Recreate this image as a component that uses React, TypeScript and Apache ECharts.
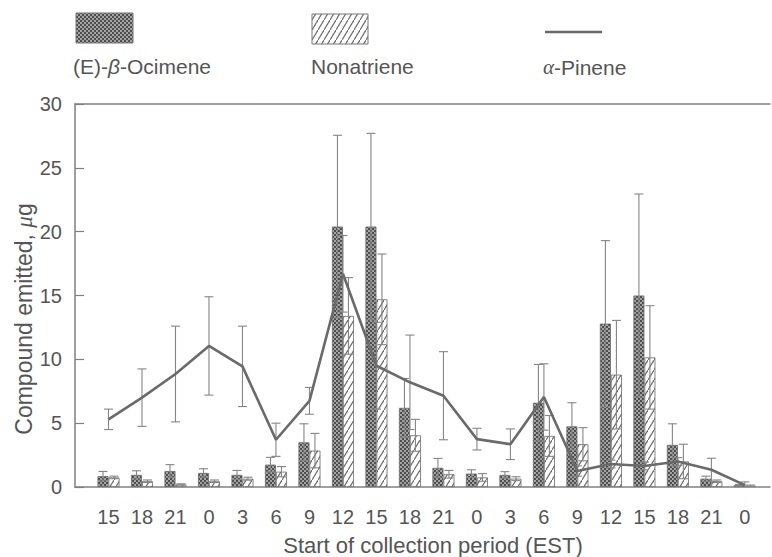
import React, { useEffect, useRef } from 'react';
import * as echarts from 'echarts';

// Start of collection period (EST)
const categories = ['15', '18', '21', '0', '3', '6', '9', '12', '15', '18', '21', '0', '3', '6', '9', '12', '15', '18', '21', '0'];

// (E)-β-Ocimene, µg (mean and error)
const ocimene = [0.85, 0.95, 1.25, 1.1, 0.95, 1.75, 3.5, 20.4, 20.4, 6.2, 1.5, 1.05, 0.95, 6.6, 4.75, 12.8, 15.0, 3.3, 0.65, 0.15];
const ocimeneErr = [0.37, 0.32, 0.5, 0.33, 0.35, 0.57, 1.45, 7.15, 7.3, 2.3, 0.74, 0.3, 0.25, 3.0, 1.85, 6.5, 7.95, 1.65, 0.2, 0.05];

// Nonatriene, µg
const nonatriene = [0.75, 0.45, 0.2, 0.45, 0.65, 1.2, 2.85, 13.4, 14.7, 4.05, 1.0, 0.75, 0.65, 4.0, 3.35, 8.8, 10.15, 2.0, 0.45, 0.1];
const nonatrieneErr = [0.1, 0.1, 0.05, 0.1, 0.12, 0.4, 1.35, 3.0, 3.55, 1.25, 0.3, 0.3, 0.15, 1.6, 1.3, 4.25, 4.05, 1.35, 0.1, 0.05];

// α-Pinene, µg
const pinene = [5.3, 7.0, 8.85, 11.05, 9.45, 3.7, 6.75, 16.7, 9.5, 8.2, 7.15, 3.75, 3.35, 7.05, 1.25, 1.8, 1.65, 2.0, 1.35, 0.15];
const pineneErr = [0.8, 2.25, 3.75, 3.85, 3.15, 1.3, 1.05, 3.0, 3.4, 3.7, 3.45, 0.85, 1.2, 2.6, 0.4, 0.3, 0.3, 0.3, 0.9, 0.25];

const yMin = 0;
const yMax = 30;
const yStep = 5;

const xTitle = 'Start of collection period (EST)';
const yTitle = '{n|Compound emitted, }{i|μ}{n|g}';

const FONT = '"Liberation Sans", Arial, Helvetica, sans-serif';
const SERIF = '"Liberation Serif", "DejaVu Serif", serif';
const TEXT = '#555';
const AXIS = '#808080';

const darkSvg =
  "<svg xmlns='http://www.w3.org/2000/svg' width='4' height='4'>" +
  "<rect width='4' height='4' fill='#a4a4a4'/>" +
  "<rect width='2' height='2' fill='#4e4e4e'/>" +
  "<rect x='2' y='2' width='2' height='2' fill='#4e4e4e'/></svg>";
const hatchSvg =
  "<svg xmlns='http://www.w3.org/2000/svg' width='6' height='10'>" +
  "<rect width='6' height='10' fill='#ffffff'/>" +
  "<line x1='-0.6' y1='11' x2='6.6' y2='-1' stroke='#6e6e6e' stroke-width='1.2'/></svg>";

const toUrl = (s: string) => 'data:image/svg+xml;charset=utf-8,' + encodeURIComponent(s);

const darkPattern: any = { image: toUrl(darkSvg), repeat: 'repeat', imageWidth: 4, imageHeight: 4 };
const hatchPattern: any = { image: toUrl(hatchSvg), repeat: 'repeat', imageWidth: 6, imageHeight: 10 };

function errorSeries(name: string, means: number[], errs: number[], offset: number, capHalf: number) {
  return {
    type: 'custom',
    name,
    coordinateSystem: 'cartesian2d',
    z: 5,
    silent: true,
    encode: { x: 0, y: 1 },
    data: means.map((m, i) => [i, m, errs[i]]),
    renderItem: (params: any, api: any) => {
      const x = api.value(0);
      const m = api.value(1);
      const e = api.value(2);
      const top = api.coord([x, m + e]);
      const bot = api.coord([x, Math.max(0, m - e)]);
      const cx = top[0] + offset;
      const style = { stroke: '#858585', lineWidth: 1.1 };
      const children: any[] = [
        { type: 'line', shape: { x1: cx, y1: top[1], x2: cx, y2: bot[1] }, style },
        { type: 'line', shape: { x1: cx - capHalf, y1: top[1], x2: cx + capHalf, y2: top[1] }, style },
      ];
      if (m - e > 0) {
        children.push({ type: 'line', shape: { x1: cx - capHalf, y1: bot[1], x2: cx + capHalf, y2: bot[1] }, style });
      }
      return { type: 'group', children };
    },
  };
}

export default function App() {
  const ref = useRef<HTMLDivElement>(null);

  useEffect(() => {
    document.body.style.margin = '0';
    if (!ref.current) return;
    const chart = echarts.init(ref.current, null, { renderer: 'svg' });

    const labelFmt = (v: number) => {
      if (Math.abs(v - Math.round(v)) > 1e-6) return '';
      const s = categories[Math.round(v)];
      return s === undefined ? '' : s;
    };

    const option: any = {
      animation: false,
      backgroundColor: '#ffffff',
      textStyle: { fontFamily: FONT },
      grid: { left: 75, right: 2, top: 104, bottom: 70, containLabel: false },
      xAxis: [
        {
          type: 'value',
          min: -1,
          max: 19.75,
          interval: 1,
          position: 'bottom',
          axisLine: { show: true, onZero: false, lineStyle: { color: AXIS, width: 1.5 } },
          axisTick: { show: false },
          splitLine: { show: false },
          axisLabel: {
            formatter: labelFmt,
            color: TEXT,
            fontSize: 20,
            fontFamily: FONT,
            margin: 20,
            showMinLabel: true,
            showMaxLabel: false,
          },
        },
        {
          type: 'value',
          min: -1,
          max: 19.75,
          interval: 1,
          position: 'top',
          axisLine: { show: true, onZero: false, lineStyle: { color: AXIS, width: 1.5 } },
          axisTick: { show: false },
          axisLabel: { show: false },
          splitLine: { show: false },
        },
      ],
      yAxis: {
        type: 'value',
        min: yMin,
        max: yMax,
        interval: yStep,
        axisLine: { show: true, onZero: false, lineStyle: { color: AXIS, width: 1.5 } },
        axisTick: { show: true, inside: true, length: 9, lineStyle: { color: AXIS, width: 1.2 } },
        splitLine: { show: false },
        axisLabel: { color: TEXT, fontSize: 20, fontFamily: FONT, margin: 13 },
      },
      series: [
        {
          type: 'bar',
          name: '(E)-β-Ocimene',
          barWidth: 11,
          barGap: '0%',
          data: ocimene.map((v, i) => [i, v]),
          itemStyle: { color: darkPattern, borderColor: '#6a6a6a', borderWidth: 0.8 },
          z: 2,
        },
        {
          type: 'bar',
          name: 'Nonatriene',
          barWidth: 11,
          barGap: '0%',
          data: nonatriene.map((v, i) => [i, v]),
          itemStyle: { color: hatchPattern, borderColor: '#6a6a6a', borderWidth: 0.8 },
          z: 2,
        },
        errorSeries('ocimene-err', ocimene, ocimeneErr, -5.5, 4.5),
        errorSeries('nonatriene-err', nonatriene, nonatrieneErr, 5.5, 4.5),
        errorSeries('pinene-err', pinene, pineneErr, 0, 4.5),
        {
          type: 'line',
          name: 'α-Pinene',
          data: pinene.map((v, i) => [i, v]),
          symbol: 'none',
          lineStyle: { color: '#6a6a6a', width: 2.6 },
          z: 6,
        },
      ],
      graphic: [
        {
          type: 'rect',
          shape: { x: 76, y: 13, width: 57, height: 30 },
          style: { fill: darkPattern, stroke: '#777', lineWidth: 1 },
        },
        {
          type: 'text',
          x: 73,
          y: 66,
          style: {
            text: '{n|(E)-}{i|β}{n|-Ocimene}',
            verticalAlign: 'middle',
            rich: {
              n: { fill: TEXT, fontSize: 21, fontFamily: FONT },
              i: { fill: TEXT, fontSize: 21, fontFamily: FONT, fontStyle: 'italic' },
            },
          },
        },
        {
          type: 'rect',
          shape: { x: 312, y: 14, width: 56, height: 30 },
          style: { fill: hatchPattern, stroke: '#777', lineWidth: 1 },
        },
        {
          type: 'text',
          x: 311,
          y: 66,
          style: { text: 'Nonatriene', fill: TEXT, fontSize: 21, fontFamily: FONT, verticalAlign: 'middle' },
        },
        {
          type: 'line',
          shape: { x1: 545, y1: 32, x2: 602, y2: 32 },
          style: { stroke: '#6a6a6a', lineWidth: 2.6 },
        },
        {
          type: 'text',
          x: 543,
          y: 67,
          style: {
            text: '{i|α}{n|-Pinene}',
            verticalAlign: 'middle',
            rich: {
              n: { fill: TEXT, fontSize: 21, fontFamily: FONT },
              i: { fill: TEXT, fontSize: 21, fontFamily: SERIF, fontStyle: 'italic' },
            },
          },
        },
        {
          type: 'text',
          x: 433,
          y: 545,
          style: {
            text: xTitle,
            fill: TEXT,
            fontSize: 22,
            fontFamily: FONT,
            align: 'center',
            verticalAlign: 'middle',
          },
        },
        {
          type: 'text',
          x: 24,
          y: 319,
          rotation: Math.PI / 2,
          style: {
            text: yTitle,
            align: 'center',
            verticalAlign: 'middle',
            rich: {
              n: { fill: TEXT, fontSize: 23, fontFamily: FONT },
              i: { fill: TEXT, fontSize: 23, fontFamily: SERIF, fontStyle: 'italic' },
            },
          },
        },
      ],
    };

    chart.setOption(option);
    return () => chart.dispose();
  }, []);

  return <div ref={ref} style={{ width: 772, height: 557 }} />;
}
